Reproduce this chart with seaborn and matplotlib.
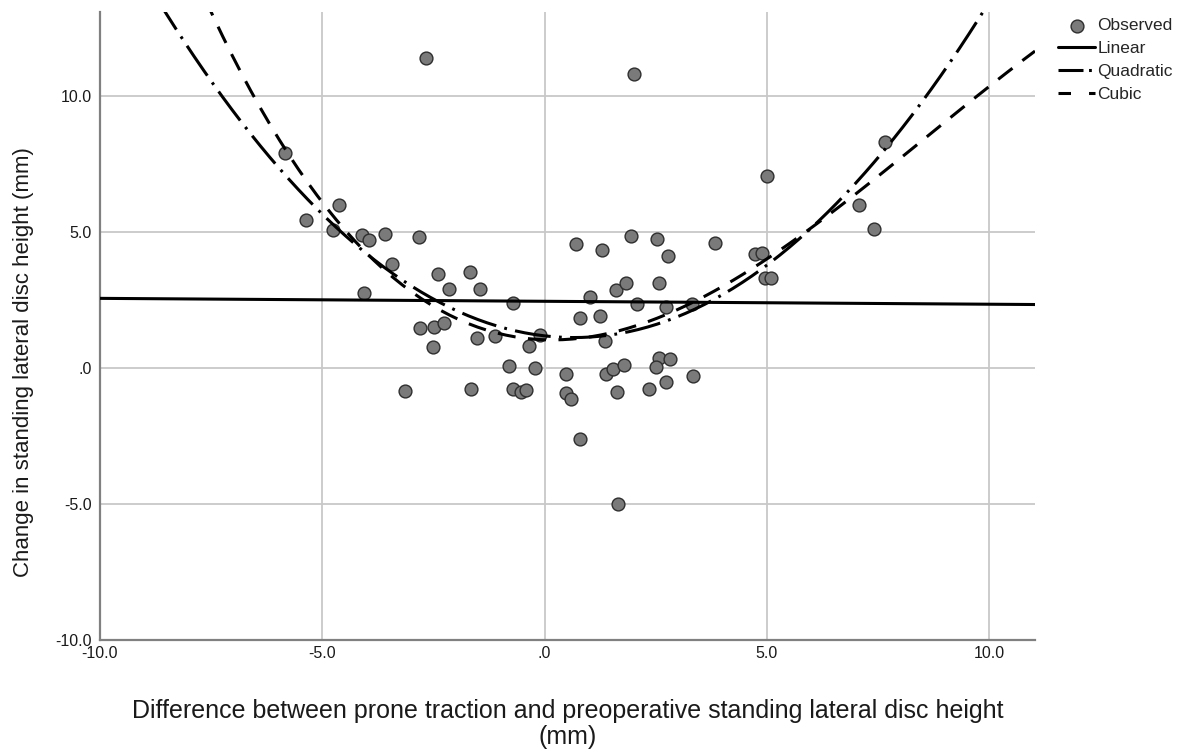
import numpy as np
import pandas as pd
import matplotlib
matplotlib.use("Agg")
import matplotlib.pyplot as plt
import seaborn as sns

x_obs = [-2.66, -5.85, -4.63, -5.36, -4.76, -4.11, -3.95, -3.58, -2.83, -3.43,
         -4.07, -2.40, -1.67, -2.14, -1.46, -0.71, -2.81, -2.49, -2.27, -2.51,
         -1.51, -1.12, -0.36, -0.11, -0.80, -0.22, -3.13, -1.66, -0.71, -0.52,
         -0.41, 0.49, 0.49, 0.60, 0.79, 1.65, 0.70, 1.29, 1.95, 2.53,
         2.78, 3.83, 4.74, 4.90, 4.96, 5.10, 1.03, 1.61, 1.82, 2.57,
         2.08, 2.72, 3.32, 0.80, 1.25, 1.35, 1.37, 1.54, 1.78, 1.63,
         2.57, 2.82, 2.51, 2.35, 2.74, 3.34, 2.00, 5.01, 7.65, 7.07,
         7.40]
y_obs = [11.40, 7.92, 5.99, 5.46, 5.07, 4.91, 4.70, 4.93, 4.81, 3.84,
         2.76, 3.47, 3.52, 2.92, 2.90, 2.39, 1.46, 1.52, 1.65, 0.79,
         1.12, 1.19, 0.81, 1.22, 0.07, 0.02, -0.85, -0.75, -0.75, -0.87,
         -0.81, -0.23, -0.93, -1.12, -2.61, -4.99, 4.58, 4.35, 4.87, 4.76,
         4.11, 4.60, 4.19, 4.23, 3.31, 3.31, 2.63, 2.88, 3.12, 3.12,
         2.35, 2.26, 2.35, 1.86, 1.93, 1.01, -0.20, -0.05, 0.11, -0.87,
         0.39, 0.32, 0.05, -0.77, -0.50, -0.30, 10.81, 7.06, 8.31, 5.99,
         5.13]

x_ticks = [-10, -5, 0, 5, 10]
x_tick_labels = ["-10.0", "-5.0", ".0", "5.0", "10.0"]
y_ticks = [-10, -5, 0, 5, 10]
y_tick_labels = ["-10.0", "-5.0", ".0", "5.0", "10.0"]

fit_names = ["Linear", "Quadratic", "Cubic"]
fit_orders = [1, 2, 3]

df = pd.DataFrame({"x": x_obs, "y": y_obs})

sns.set_style("white")
plt.rcParams["font.family"] = ["Liberation Sans", "DejaVu Sans"]
plt.rcParams["lines.scale_dashes"] = False

fig = plt.figure(figsize=(12.01, 7.53), dpi=100)
ax = fig.add_axes([100 / 1201, 113 / 753, 935 / 1201, 628 / 753])
ax.set_xlim(-10, 11.03)
ax.set_ylim(-10, 13.1)

# grid first so it sits below the data
ax.set_xticks(x_ticks)
ax.set_xticklabels(x_tick_labels)
ax.set_yticks(y_ticks)
ax.set_yticklabels(y_tick_labels)
ax.grid(True, color="#c8c8c8", linewidth=1.3)
ax.set_axisbelow(True)

sns.scatterplot(data=df, x="x", y="y", ax=ax, s=85, color="#7a7a7a",
                edgecolor="#2e2e2e", linewidth=1.0, label="Observed", zorder=3)

styles = {
    "Linear": "-",
    "Quadratic": (0, (26, 6, 2, 6)),
    "Cubic": (0, (13, 9)),
}
# short dash patterns so the legend handles show the dash/dot look
legend_styles = {
    "Linear": "-",
    "Quadratic": (0, (18, 4, 2, 6)),
    "Cubic": (0, (9, 13)),
}
for name, order in zip(fit_names, fit_orders):
    sns.regplot(data=df, x="x", y="y", order=order, ci=None, scatter=False,
                truncate=False, ax=ax, color="black",
                line_kws={"linewidth": 2.2, "linestyle": styles[name],
                          "zorder": 4})
    ax.lines[-1].set_label(name)

ax.set_xlim(-10, 11.03)
ax.set_ylim(-10, 13.1)

for side in ["top", "right"]:
    ax.spines[side].set_visible(False)
for side in ["left", "bottom"]:
    ax.spines[side].set_color("#808080")
    ax.spines[side].set_linewidth(1.6)

ax.tick_params(axis="both", length=0, labelsize=11.5, colors="#1a1a1a")
ax.tick_params(axis="x", pad=4)
ax.tick_params(axis="y", pad=6)

ax.set_xlabel("Difference between prone traction and preoperative standing lateral disc height\n(mm)",
              fontsize=18, color="#1a1a1a", labelpad=28, linespacing=1.08)
ax.set_ylabel("Change in standing lateral disc height (mm)",
              fontsize=16, color="#1a1a1a")
ax.yaxis.set_label_coords(-0.071, 0.443)

leg = ax.legend(loc="upper left", bbox_to_anchor=(1.025, 0.99), frameon=False,
                fontsize=12.5, handlelength=2.1, handletextpad=0.15,
                labelspacing=0.45, borderaxespad=0.0, borderpad=0.0)
for handle, text in zip(leg.legend_handles, leg.get_texts()):
    if text.get_text() in legend_styles:
        handle.set_linestyle(legend_styles[text.get_text()])

fig.savefig("out.png", dpi=100)
